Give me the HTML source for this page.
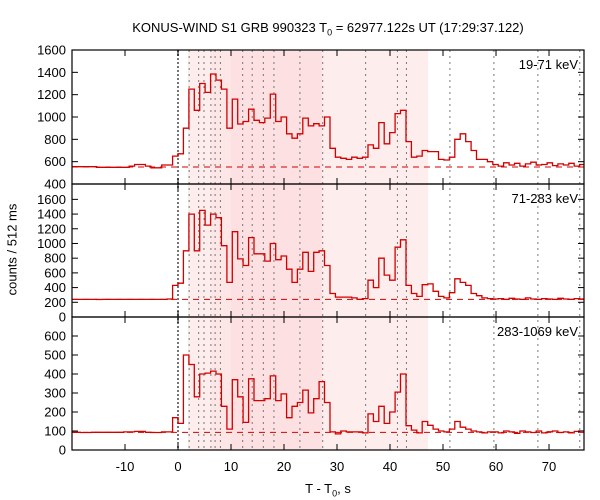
<!DOCTYPE html>
<html><head><meta charset="utf-8"><style>
html,body{margin:0;padding:0;background:#fff;}
svg{display:block;font-family:"Liberation Sans","DejaVu Sans",sans-serif;}
</style></head><body>
<svg id="chart" width="600" height="500" viewBox="0 0 600 500"></svg>
<script>
const binStartIndex = -20;
const binWidth = 1.024;
const counts19to71 = [555,555,555,555,555,550,550,550,550,550,550,560,575,575,560,545,545,570,570,650,
670,900,1250,1060,1300,1220,1385,1330,1250,900,
1160,937,960,1070,970,950,990,1205,960,1000,
850,810,850,990,920,940,920,1000,720,640,
630,620,640,630,640,750,720,950,760,860,
1030,1060,780,640,650,700,690,690,620,615,
640,800,850,780,700,620,620,600,
575,560,590,570,585,560,580,595,570,575,590,565,580,570,585,560,575];
const counts71to283 = [240,240,240,240,240,238,240,240,240,240,240,240,240,240,240,240,240,240,245,430,
460,900,1400,900,1450,1250,1400,1350,970,470,
1160,790,700,1080,860,860,760,1000,780,830,
650,470,650,880,620,880,900,700,320,270,
270,270,260,240,250,500,400,800,570,500,
950,1050,430,320,280,440,450,350,280,260,
330,520,470,430,320,290,260,250,
245,250,240,255,245,240,260,245,240,250,245,240,255,245,240,250,245];
const counts283to1069 = [93,93,92,92,93,93,93,93,93,93,95,95,98,98,93,92,92,95,95,170,
140,500,450,280,400,405,415,400,230,110,
370,280,145,375,260,260,270,390,260,295,
170,230,250,315,195,270,360,250,95,85,
100,95,95,95,90,190,150,230,140,200,
305,400,128,105,90,150,130,110,100,95,
110,150,120,110,100,95,90,95,
95,90,100,95,88,100,95,92,100,90,96,100,92,95,90,98,100];
const backgrounds = [552, 240, 93];
const panelLabels = ["19-71 keV","71-283 keV","283-1069 keV"];
const yTicks1 = [400,600,800,1000,1200,1400,1600];
const yTicks2 = [0,200,400,600,800,1000,1200,1400,1600];
const yTicks3 = [0,100,200,300,400,500,600];
const xTicks = [-10,0,10,20,30,40,50,60,70];
const markerTimes = [0,2.1,3.9,4.9,6.2,7.0,8.0,12.2,14.0,16.1,18.1,23.0,27.3,35.4,41.4,43.1,51.3,59.6,67.9,75.8];
const shadeLight = [1.9, 47.2];
const shadeMid = [6.2, 10.0];
const shadeDark = [10.0, 27.2];

const X0=72, X1=584, T0=-20, T1=76.6;
const xs = t => X0 + (t-T0)/(T1-T0)*(X1-X0);
const panels = [
 {top:50,bot:184,min:400,max:1600,data:counts19to71,ticks:yTicks1,name:'panel-19-71kev'},
 {top:184,bot:317,min:0,max:1809,data:counts71to283,ticks:yTicks2,name:'panel-71-283kev'},
 {top:317,bot:450,min:0,max:700,data:counts283to1069,ticks:yTicks3,name:'panel-283-1069kev'}
];
const svg=document.getElementById('chart');
const NS='http://www.w3.org/2000/svg';
function mk(tag,attrs,parent){const e=document.createElementNS(NS,tag);for(const k in attrs)e.setAttribute(k,attrs[k]);(parent||svg).appendChild(e);return e;}

// shading
[[shadeLight,'#fdeded','shade-light'],[shadeMid,'#fde6e6','shade-mid'],[shadeDark,'#fde0e1','shade-dark']].forEach(s=>{
 const r=mk('rect',{x:xs(s[0][0]),y:50,width:xs(s[0][1])-xs(s[0][0]),height:400,fill:s[1]});
 
 
});
// marker lines
markerTimes.forEach((t,i)=>{
 const l=mk('line',{x1:xs(t),x2:xs(t),y1:50,y2:450,stroke:'#777','stroke-width':i===0?2:1,'stroke-dasharray':i===0?'2,2':'2,4'});
 
 
});

panels.forEach((p,pi)=>{
 const ys=v=>p.bot-(v-p.min)/(p.max-p.min)*(p.bot-p.top);
 const g=mk('g',{'clip-path':'url(#clip'+pi+')'});
 
 
 const cp=mk('clipPath',{id:'clip'+pi});
 mk('rect',{x:X0,y:p.top,width:X1-X0,height:p.bot-p.top},cp);
 const bl=mk('line',{x1:X0,x2:X1,y1:ys(backgrounds[pi]),y2:ys(backgrounds[pi]),stroke:'#d40000','stroke-width':1,'stroke-dasharray':'6,5'},g);
 
 
 let d='';
 p.data.forEach((v,i)=>{
  const ta=(binStartIndex+i)*binWidth, tb=ta+binWidth;
  d+=(i===0?'M':'L')+xs(ta).toFixed(1)+','+ys(v).toFixed(1)+'L'+xs(tb).toFixed(1)+','+ys(v).toFixed(1);
 });
 const path=mk('path',{d:d,fill:'none',stroke:'#d40000','stroke-width':1.3},g);
 
 
 // frame
 const fr=mk('rect',{x:X0,y:p.top,width:X1-X0,height:p.bot-p.top,fill:'none',stroke:'#000','stroke-width':1.2});
 
 
 p.ticks.forEach(v=>{
  const y=ys(v);
  mk('line',{x1:X0,x2:X0+6,y1:y,y2:y,stroke:'#000'});
  mk('line',{x1:X1-6,x2:X1,y1:y,y2:y,stroke:'#000'});
  const tx=mk('text',{x:66,y:y+4.5,'text-anchor':'end','font-size':13,fill:'#000'});
  tx.textContent=v;
  
  
 });
 xTicks.forEach(t=>{
  const x=xs(t);
  mk('line',{x1:x,x2:x,y1:p.bot,y2:p.bot-6,stroke:'#000'});
  mk('line',{x1:x,x2:x,y1:p.top,y2:p.top+6,stroke:'#000'});
 });
 const lab=mk('text',{x:578,y:p.top+19,'text-anchor':'end','font-size':13,fill:'#000'});
 lab.textContent=panelLabels[pi];
 
 
});
xTicks.forEach(t=>{
 const tx=mk('text',{x:xs(t),y:471,'text-anchor':'middle','font-size':13,fill:'#000'});
 tx.textContent=t;
 
 
});
</script>
<svg width="0" height="0" style="position:absolute"></svg>
<div style="position:absolute;left:0;top:0;width:600px;height:500px;pointer-events:none;">
<div style="position:absolute;left:0;width:656px;top:20px;text-align:center;font:13px 'Liberation Sans','DejaVu Sans',sans-serif;">KONUS-WIND S1 GRB 990323 T<sub style="font-size:9px">0</sub> = 62977.122s UT (17:29:37.122)</div>
<div style="position:absolute;left:228px;width:200px;top:481px;text-align:center;font:13px 'Liberation Sans','DejaVu Sans',sans-serif;">T - T<sub style="font-size:9px">0</sub>, s</div>
<div style="position:absolute;left:-88px;top:242px;width:200px;text-align:center;transform:rotate(-90deg);font:13px 'Liberation Sans','DejaVu Sans',sans-serif;">counts / 512 ms</div>
</div>
</body></html>
